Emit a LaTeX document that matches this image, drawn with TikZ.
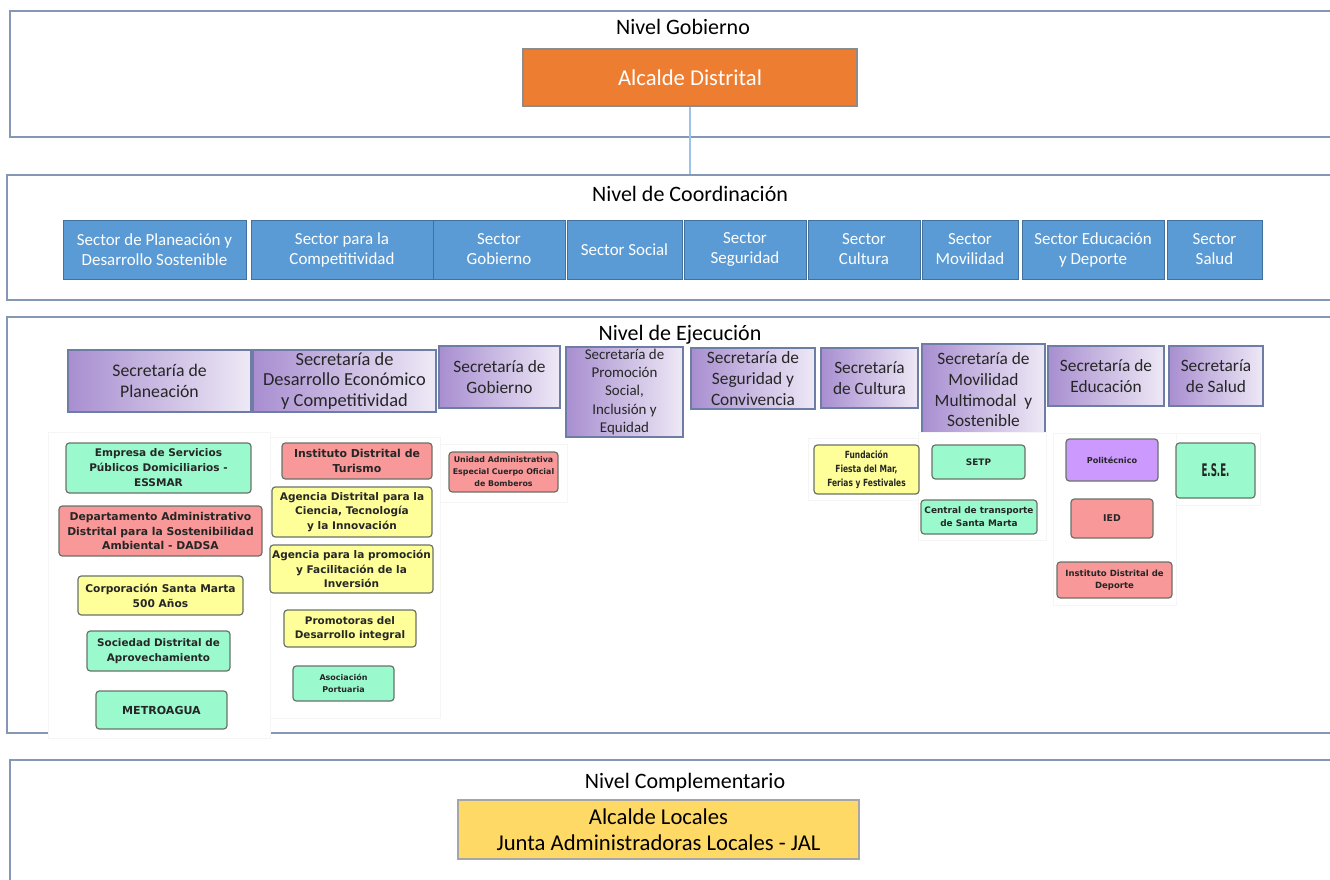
\documentclass[tikz,border=0pt]{standalone}
\usepackage{fontspec}
\setmainfont{Carlito}
\newfontfamily\dvs{DejaVu Sans}
\definecolor{panelc}{RGB}{132,151,180}
\definecolor{orangec}{RGB}{237,125,49}
\definecolor{sectc}{RGB}{91,155,213}
\definecolor{sectd}{RGB}{65,113,156}
\definecolor{purL}{RGB}{168,142,208}
\definecolor{purR}{RGB}{238,233,246}
\definecolor{purD}{RGB}{110,125,165}
\definecolor{grn}{RGB}{155,250,205}
\definecolor{redc}{RGB}{248,152,152}
\definecolor{yel}{RGB}{255,255,153}
\definecolor{vio}{RGB}{204,153,255}
\definecolor{gold}{RGB}{255,217,102}
\definecolor{linkc}{RGB}{157,195,230}
\definecolor{ebord}{RGB}{105,115,105}
% box from (x1,y1) to (x2,y2) in pixel units
\newcommand\bx[7]{%
  \pgfmathsetmacro\bxw{(#5-#3)*0.75}%
  \pgfmathsetmacro\bxh{(#6-#4)*0.75}%
  \node[#1,minimum width=\bxw pt,minimum height=\bxh pt] (#2) at ({(#3+#5)/2},{(#4+#6)/2}) {#7};}
\begin{document}
\begin{tikzpicture}[x=0.75pt,y=-0.75pt,
  panel/.style={draw=panelc,line width=1.1pt,inner sep=0},
  lvl/.style={font=\fontsize{16.5}{19}\selectfont,anchor=base,inner sep=0},
  sect/.style={draw=sectd,line width=0.6pt,fill=sectc,text=white,inner sep=0,align=center,font=\fontsize{12.7}{15}\selectfont},
  secr/.style={draw=purD,line width=0.8pt,left color=purL,right color=purR,inner sep=0,align=center,text=black!85},
  ent/.style={draw=ebord,line width=0.9pt,rounded corners=2.5pt,inner sep=0,align=center,text=black!85},
  ef/.style 2 args={font=\dvs\bfseries\fontsize{#1}{#2}\selectfont},
  img/.style={fill=white,draw=black!4,line width=0.5pt},
  link/.style={draw=linkc,line width=0.8pt}]
\useasboundingbox (0,0) rectangle (1330,880);
\clip (0,0) rectangle (1330,880);

% panels
\bx{panel}{pgob}{10}{11}{1350}{137}{}
\bx{panel}{pcoord}{7}{175}{1350}{300}{}
\bx{panel}{pejec}{7}{317}{1350}{733}{}
\bx{panel}{pcomp}{10}{760}{1350}{900}{}

% titles
\node[lvl] (tgob) at (683,35) {Nivel Gobierno};
\node[lvl] (tcoord) at (690,202) {Nivel de Coordinación};
\node[lvl] (tejec) at (680,340) {Nivel de Ejecución};
\node[lvl] (tcomp) at (685,788) {Nivel Complementario};

% government
\bx{inner sep=0,fill=orangec,draw=black!45,line width=0.8pt,text=white,font=\fontsize{17}{20}\selectfont}{alc}{523}{49}{857}{106}{Alcalde Distrital}
\draw[link] (alc.south) -- (alc.south |- pcoord.north);

% coordination sectors
\bx{sect}{c1}{63}{220}{246}{279}{Sector de Planeación y\\Desarrollo Sostenible}
\bx{sect}{c2}{251}{220}{433}{279}{Sector para la\\Competitividad}
\bx{sect}{c3}{433}{220}{565}{279}{Sector\\Gobierno}
\bx{sect}{c4}{567}{220}{682}{279}{Sector Social}
\bx{sect}{c5}{684}{220}{806}{279}{Sector\\Seguridad}
\bx{sect}{c6}{808}{220}{920}{279}{Sector\\Cultura}
\bx{sect}{c7}{922}{220}{1018}{279}{Sector\\Movilidad}
\bx{sect}{c8}{1022}{220}{1164}{279}{Sector Educación\\y Deporte}
\bx{sect}{c9}{1167}{220}{1262}{279}{Sector\\Salud}

% secretarias
\bx{secr,font=\fontsize{13.3}{15.5}\selectfont}{s1}{68}{350}{251}{412}{Secretaría de\\Planeación}
\bx{secr,font=\fontsize{13.8}{15.5}\selectfont}{s2}{253}{350}{436}{412}{Secretaría de\\Desarrollo Económico\\y Competitividad}
\bx{secr,font=\fontsize{13}{16}\selectfont}{s3}{439}{346}{560}{408}{Secretaría de\\Gobierno}
\bx{secr,font=\fontsize{11.2}{13.6}\selectfont}{s4}{566}{347}{683}{437}{Secretaría de\\Promoción\\Social,\\Inclusión y\\Equidad}
\bx{secr,font=\fontsize{13}{16}\selectfont}{s5}{691}{348}{815}{409}{Secretaría de\\Seguridad y\\Convivencia}
\bx{secr,font=\fontsize{13}{16}\selectfont}{s6}{821}{348}{918}{408}{Secretaría\\de Cultura}
\bx{secr,font=\fontsize{13}{15.5}\selectfont}{s7}{922}{344}{1045}{436}{Secretaría de\\Movilidad\\Multimodal~~y\\Sostenible}
\bx{secr,font=\fontsize{13}{16}\selectfont}{s8}{1048}{346}{1164}{406}{Secretaría de\\Educación}
\bx{secr,font=\fontsize{13}{16}\selectfont}{s9}{1169}{346}{1263}{406}{Secretaría\\de Salud}

% pasted image backgrounds
\path[img] (48,432) rectangle (270,738);
\path[img] (270,437) rectangle (440,718);
\path[img] (440,444) rectangle (567,502);
\path[img] (808,438) rectangle (921,500);
\path[img] (918,432) rectangle (1046,540);
\path[img] (1053,433) rectangle (1176,605);
\path[img] (1176,433) rectangle (1260,505);

% column 1
\bx{ent,fill=grn,ef={7.9}{11.2}}{e1}{66}{443}{251}{493}{Empresa de Servicios\\Públicos Domiciliarios -\\ESSMAR}
\bx{ent,fill=redc,ef={8.1}{11.2}}{e2}{59}{506}{262}{556}{Departamento Administrativo\\Distrital para la Sostenibilidad\\Ambiental - DADSA}
\bx{ent,fill=yel,ef={8}{11.2}}{e3}{78}{576}{243}{615}{Corporación Santa Marta\\500 Años}
\bx{ent,fill=grn,ef={7.8}{11.2}}{e4}{87}{631}{230}{671}{Sociedad Distrital de\\Aprovechamiento}
\bx{ent,fill=grn,ef={8.3}{11}}{e5}{96}{691}{227}{729}{METROAGUA}

% column 2
\bx{ent,fill=redc,ef={8.2}{11}}{f1}{282}{443}{432}{479}{Instituto Distrital de\\Turismo}
\bx{ent,fill=yel,ef={7.9}{11}}{f2}{272}{487}{432}{537}{Agencia Distrital para la\\Ciencia, Tecnología\\y la Innovación}
\bx{ent,fill=yel,ef={7.9}{11}}{f3}{270}{545}{433}{593}{Agencia para la promoción\\y Facilitación de la\\Inversión}
\bx{ent,fill=yel,ef={7.8}{11}}{f4}{284}{610}{416}{647}{Promotoras del\\Desarrollo integral}
\bx{ent,fill=grn,ef={6}{9.5}}{f5}{293}{666}{394}{701}{Asociación\\Portuaria}

% column 3
\bx{ent,fill=redc,ef={5.9}{9}}{g1}{449}{452}{558}{492}{Unidad Administrativa\\Especial Cuerpo Oficial\\de Bomberos}

% column 6
\bx{ent,fill=yel,ef={7.4}{10.5}}{h1}{814}{445}{919}{494}{\scalebox{0.76}[1]{\begin{tabular}{@{}c@{}}Fundación\\Fiesta del Mar,\\Ferias y Festivales\end{tabular}}}

% column 7
\bx{ent,fill=grn,ef={6.7}{9.5}}{m1}{932}{445}{1025}{479}{SETP}
\bx{ent,fill=grn,ef={6.7}{9.5}}{m2}{921}{500}{1037}{534}{Central de transporte\\de Santa Marta}

% column 8
\bx{ent,fill=vio,ef={6.1}{9}}{n1}{1066}{439}{1158}{481}{Politécnico}
\bx{ent,fill=redc,ef={7}{9.5}}{n2}{1071}{499}{1153}{538}{IED}
\bx{ent,fill=redc,ef={6.4}{9.5}}{n3}{1057}{562}{1172}{598}{Instituto Distrital de\\Deporte}

% column 9
\bx{ent,fill=grn,ef={13}{14}}{o1}{1176}{443}{1255}{498}{\scalebox{0.5}[1]{E.S.E.}}

% complementary
\bx{inner sep=0,fill=gold,draw=black!35,line width=0.8pt,align=center,font=\fontsize{17}{19.5}\selectfont}{jal}{458}{800}{859}{859}{Alcalde Locales\\Junta Administradoras Locales - JAL}
\end{tikzpicture}
\end{document}
